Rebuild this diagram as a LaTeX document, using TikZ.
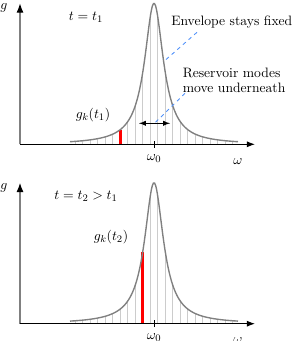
\documentclass[tikz,border=0pt]{standalone}
\usepackage{tikz}
\usetikzlibrary{arrows,arrows.meta,positioning}
\definecolor{pointerblue}{RGB}{80,145,250}
\tikzset{
  declare function={env(\x)=141/(1+((\x-134)/11.5)^2);},
  every node/.style={font=\fontsize{10.9pt}{12.2pt}\selectfont},
  gaxis/.style={draw=gray, line width=1pt, -{Latex[black]}},
  waxis/.style={draw=black, line width=0.8pt, -{Latex[black]}},
  envline/.style={draw=gray, line width=1.1pt},
  modeline/.style={draw=gray!40, line width=0.6pt},
  hotmode/.style={draw=red, line width=2.2pt},
  pointer/.style={draw=pointerblue, dashed, line width=0.7pt},
}
\begin{document}
\begin{tikzpicture}[x=0.8pt, y=0.8pt]
    \useasboundingbox (-20,-196.7) rectangle (271,144.3);
    % Upper panel: t = t1
    \foreach \k in {0,...,10} {
        \pgfmathsetmacro{\xl}{130.25-7.5*\k}
        \pgfmathsetmacro{\xr}{137.75+7.5*\k}
        \draw[modeline] (\xl,0) -- (\xl,{env(\xl)});
        \draw[modeline] (\xr,0) -- (\xr,{env(\xr)});
    }
    \draw[hotmode] (100.25,0) -- (100.25,{env(100.25)});
    \draw[envline] plot[domain=50:218, samples=160, smooth] (\x,{env(\x)});
    \draw[gaxis] (0,0) -- (0,141);
    \draw[waxis] (0,0) -- (235,0);
    \draw[line width=0.8pt] (134,-3.3) -- (134,3.3);
    \node (gaxis1) at (-16,136) {$g$};
    \node (omega01) at (134,-14) {$\omega_0$};
    \node (omega1) at (218,-17) {$\omega$};
    \node (time1) at (66,127) {$t=t_1$};
    \node (gk1) at (73,29) {$g_k(t_1)$};
    
    % Shift of the modes under the fixed envelope
    \coordinate (shiftL) at (119,21);
    \coordinate (shiftR) at (150,21);
    \coordinate (shiftmid) at (134.5,21);
    \draw[latex-latex, line width=0.9pt] (shiftL) -- (shiftR);
    
    % Annotations with dashed pointers
    \node[anchor=west, inner sep=0pt] (envtext) at (151,122) {Envelope stays fixed};
    \node[anchor=west, align=left, inner sep=0pt] (restext) at (162.5,64) {Reservoir modes\\move underneath};
    \coordinate (envfoot) at (177,112);
    \coordinate (envtip) at (144,83);
    \coordinate (resfoot) at (165,51);
    \draw[pointer] (envfoot) -- (envtip);
    \draw[pointer] (resfoot) -- (shiftmid);
    
    % Lower panel: t = t2 > t1
    \begin{scope}[shift={(0,-179.4)}]
        \foreach \k in {0,...,10} {
            \pgfmathsetmacro{\xl}{130.25-7.5*\k}
            \pgfmathsetmacro{\xr}{137.75+7.5*\k}
            \draw[modeline] (\xl,0) -- (\xl,{env(\xl)});
            \draw[modeline] (\xr,0) -- (\xr,{env(\xr)});
        }
        \draw[hotmode] (122.75,0) -- (122.75,{env(122.75)});
        \draw[envline] plot[domain=50:218, samples=160, smooth] (\x,{env(\x)});
        \draw[gaxis] (0,0) -- (0,141);
        \draw[waxis] (0,0) -- (235,0);
        \draw[line width=0.8pt] (134,-3.3) -- (134,3.3);
        \node (gaxis2) at (-16,136) {$g$};
        \node (omega02) at (134,-14) {$\omega_0$};
        \node (omega2) at (218,-17) {$\omega$};
        \node (time2) at (66,127) {$t=t_2>t_1$};
        \node (gk2) at (91,87) {$g_k(t_2)$};
    \end{scope}
\end{tikzpicture}
\end{document}
